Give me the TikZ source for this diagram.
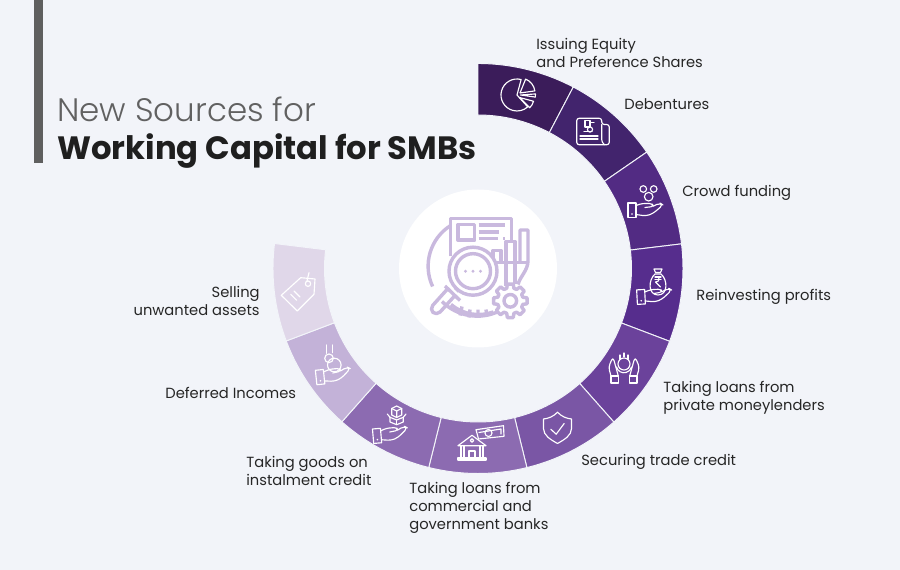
\documentclass[tikz,border=0pt]{standalone}
\usepackage{fontspec}
\setmainfont{Poppins}
\newfontfamily\titololeggero{Poppins Light}
\definecolor{sfondo}{HTML}{F2F4F9}
\definecolor{barra}{HTML}{5F5F5F}
\definecolor{viola1}{HTML}{3B1C5A}
\definecolor{viola2}{HTML}{42246D}
\definecolor{viola3}{HTML}{522B83}
\definecolor{viola4}{HTML}{562D8D}
\definecolor{viola5}{HTML}{6B429B}
\definecolor{viola6}{HTML}{7A56A5}
\definecolor{viola7}{HTML}{8C6BB1}
\definecolor{viola8}{HTML}{C3B2D8}
\definecolor{viola9}{HTML}{E0D7E9}
\definecolor{lilla}{HTML}{C9B9DE}
\begin{document}
\begin{tikzpicture}[
    settore/.style={draw=sfondo,line width=0.55pt},
    icona/.style={white,line width=0.65pt,line join=round,line cap=round},
    etichetta/.style={font=\fontsize{8.37}{10.24}\selectfont,text=black!85,inner sep=0},
    mano/.pic={
      \draw (-17,-7.5) rectangle (-9,7);
      \fill (-13,-4) circle[radius=0.9];
      \draw[rounded corners=1.5] (-9,4.5) -- (-3,6.5) -- (7,6.5) -- (8.5,3.5) -- (0,2.5);
      \draw[rounded corners=2] (7.8,3.7) -- (15,7) -- (18,5) -- (8,-3.5) -- (1,-6) -- (-9,-4.5);
    }]

  \fill[sfondo] (0,0) rectangle (18,11.4);
  \useasboundingbox (0,0) rectangle (18,11.4);

  % ---- titolo ----------------------------------------------------------------
  \fill[barra] (0.68,8.14) rectangle (0.855,11.4);
  \node[anchor=base west,inner sep=0,text=black!62,font=\fontsize{18.5}{20}\selectfont\titololeggero]
    (titolo1) at (1.14,8.96) {New Sources for};
  \node[anchor=base west,inner sep=0,text=black!88,font=\fontsize{18.37}{20}\selectfont\bfseries]
    (titolo2) at (1.14,8.2) {Working Capital for SMBs};

  % ---- corona di settori -----------------------------------------------------
  \begin{scope}[shift={(9.56,6.03)}]
    \draw[settore,fill=viola1] (90:3.07) arc[start angle=90,end angle=62.3,radius=3.07] -- (62.3:4.1) arc[start angle=62.3,end angle=90,radius=4.1] -- cycle;
    \draw[settore,fill=viola2] (62.3:3.07) arc[start angle=62.3,end angle=34.6,radius=3.07] -- (34.6:4.1) arc[start angle=34.6,end angle=62.3,radius=4.1] -- cycle;
    \draw[settore,fill=viola3] (34.6:3.07) arc[start angle=34.6,end angle=6.9,radius=3.07] -- (6.9:4.1) arc[start angle=6.9,end angle=34.6,radius=4.1] -- cycle;
    \draw[settore,fill=viola4] (6.9:3.07) arc[start angle=6.9,end angle=-20.8,radius=3.07] -- (-20.8:4.1) arc[start angle=-20.8,end angle=6.9,radius=4.1] -- cycle;
    \draw[settore,fill=viola5] (-20.8:3.07) arc[start angle=-20.8,end angle=-48.5,radius=3.07] -- (-48.5:4.1) arc[start angle=-48.5,end angle=-20.8,radius=4.1] -- cycle;
    \draw[settore,fill=viola6] (-48.5:3.07) arc[start angle=-48.5,end angle=-76.2,radius=3.07] -- (-76.2:4.1) arc[start angle=-76.2,end angle=-48.5,radius=4.1] -- cycle;
    \draw[settore,fill=viola7] (-76.2:3.07) arc[start angle=-76.2,end angle=-103.9,radius=3.07] -- (-103.9:4.1) arc[start angle=-103.9,end angle=-76.2,radius=4.1] -- cycle;
    \draw[settore,fill=viola7] (-103.9:3.07) arc[start angle=-103.9,end angle=-131.6,radius=3.07] -- (-131.6:4.1) arc[start angle=-131.6,end angle=-103.9,radius=4.1] -- cycle;
    \draw[settore,fill=viola8] (-131.6:3.07) arc[start angle=-131.6,end angle=-159.3,radius=3.07] -- (-159.3:4.1) arc[start angle=-159.3,end angle=-131.6,radius=4.1] -- cycle;
    \draw[settore,fill=viola9] (-159.3:3.07) arc[start angle=-159.3,end angle=-187,radius=3.07] -- (-187:4.1) arc[start angle=-187,end angle=-159.3,radius=4.1] -- cycle;
    \fill[white] (0,0) circle[radius=1.58];
  \end{scope}

  % ---- icona centrale --------------------------------------------------------
  \begin{scope}[shift={(9.56,6.03)},scale=0.02,lilla,line width=1.95pt,line join=round]
    % cerchio di fondo, documento
    \draw (-27.3,43) arc[start angle=122,end angle=205,radius=48];
    \draw (-36,-33) arc[start angle=225,end angle=296,radius=50];
    \draw (-27,-36) arc[start angle=230,end angle=290,radius=43];
    \draw (-18,-47) -- (-16,-38) (-9,-49) -- (-8,-41) (0,-49) -- (0,-41) (9,-48) -- (8,-41);
    \draw (-27.3,12) -- (-27.3,50) -- (33.3,50) -- (33.3,28);
    \draw (-20,28.3) rectangle (-3.3,44);
    \draw (0.7,43.3) -- (26.7,43.3) (0.7,36.7) -- (20.7,36.7) (0.7,30) -- (20,30) (25,30) -- (26.7,30);
    % barre del grafico
    \draw (15,6) -- (15,18) -- (23,18) -- (23,6);
    \draw (28,6) -- (28,27) -- (37,27) -- (37,6) -- (37,-16) (28,6) -- (28,-18);
    \draw (42,6) -- (42,38.5) -- (50,38.5) -- (50,8) .. controls (50,-2) and (42,-8) .. (40,-16);
    \draw (15,6) -- (50,6);
    % lente
    \draw[fill=white] (-5,-2.7) circle[radius=24];
    \draw (-5,-2.7) circle[radius=17.5];
    \fill (-12.5,-2.7) circle[radius=1.6] (-5,-2.7) circle[radius=1.6] (2.5,-2.7) circle[radius=1.6];
    \draw (-23,-19) -- (-19,-23);
    \draw (-33,-17.5) -- (-18,-32);
    \draw[rounded corners=3] (-23.3,-27.3) -- (-41.3,-47.3) -- (-48.7,-40.7) -- (-30.7,-20.7);
    % ingranaggio
    \draw[fill=white,shift={(32.3,-32.3)}] (-10:17) -- (10:17) -- (16:13) -- (29:13) -- (35:17) -- (55:17) -- (61:13) -- (74:13) -- (80:17) -- (100:17) -- (106:13) -- (119:13) -- (125:17) -- (145:17) -- (151:13) -- (164:13) -- (170:17) -- (190:17) -- (196:13) -- (209:13) -- (215:17) -- (235:17) -- (241:13) -- (254:13) -- (260:17) -- (280:17) -- (286:13) -- (299:13) -- (305:17) -- (325:17) -- (331:13) -- (344:13) -- cycle;
    \draw (32.3,-32.3) circle[radius=6.3];
  \end{scope}

  % ---- icone dei settori -----------------------------------------------------
  % torta
  \begin{scope}[shift={(10.36,9.5)},scale=0.02,icona]
    \draw (-1,0) -- ++(75:16) arc[start angle=75,end angle=312,radius=16] -- cycle;
    \draw (2,2) -- ++(68:15) arc[start angle=68,end angle=8,radius=15] -- cycle;
    \draw (2.5,0) -- ++(4:15) arc[start angle=4,end angle=-8,radius=15] -- cycle;
    \draw (1.5,-2.5) -- ++(-15:14.5) arc[start angle=-15,end angle=-45,radius=14.5] -- cycle;
  \end{scope}
  % documento
  \begin{scope}[shift={(11.86,8.77)},scale=0.02,icona]
    \draw[rounded corners=1.5] (8.7,7) -- (8.7,13.3) -- (-16.3,13.3) -- (-16.3,-13.3) -- (16.3,-13.3) -- (16.3,7) -- cycle;
    \draw[rounded corners=1.5] (8.7,7) -- (8.7,-10.5) -- (11.5,-13.3);
    \draw (-13,-4.5) -- (5,-4.5) (-13,-7.5) -- (5,-7.5);
    \draw (-8,4.5) rectangle (-3,11);
    \draw (-3,2) circle[radius=2.6];
    \draw (-9,0) -- (-1,0) (-2,9) -- (1,9);
  \end{scope}
  % mano e monete
  \begin{scope}[shift={(12.9,7.36)},scale=0.02,icona]
    \pic[transform shape] at (0,-8) {mano};
    \draw (-1.7,13) circle[radius=3.3];
    \draw (8.7,13) circle[radius=3.3];
    \draw (3.7,5.3) circle[radius=4.3];
  \end{scope}
  % sacco di rupie
  \begin{scope}[shift={(13.08,5.68)},scale=0.02,icona]
    \draw (1,12) .. controls (-6,6) and (-6,-9) .. (4,-9) .. controls (14,-9) and (14,6) .. (7,12) -- cycle;
    \pic[transform shape,rotate=3] at (0,-10) {mano};
    \draw (0,17) -- (8,17) -- (6.5,13.5) -- (1.5,13.5) -- cycle;
    \draw (1,9) -- (7,9) (1,6.5) -- (7,6.5);
    \draw (3,9) .. controls (6,9) and (6,4) .. (1.5,4) -- (6.5,-1);
  \end{scope}
  % due mani attorno alla moneta
  \begin{scope}[shift={(12.48,4.04)},scale=0.02,icona]
    \draw (0,4) circle[radius=6];
    \draw (-7.5,1) arc[start angle=195,end angle=345,radius=7.8];
    \draw (-4,13) -- (-4,9) (0,15) -- (0,11) (4,13) -- (4,9);
    \draw (-13,-8) rectangle (-5.7,-15);
    \draw (13,-8) rectangle (5.7,-15);
    \draw[rounded corners=2] (-13,-8) -- (-15.5,1) -- (-11,11) -- (-9,4) -- (-5.7,-8);
    \draw[rounded corners=2] (13,-8) -- (15.5,1) -- (11,11) -- (9,4) -- (5.7,-8);
  \end{scope}
  % scudo
  \begin{scope}[shift={(11.15,2.85)},scale=0.02,icona]
    \draw (0,15.3) .. controls (-4,11) and (-9,9) .. (-14,8.5) -- (-14,-1) .. controls (-14,-8) and (-7,-12) .. (0,-16) .. controls (7,-12) and (14,-8) .. (14,-1) -- (14,8.5) .. controls (9,9) and (4,11) .. cycle;
    \draw (-6.7,-1.7) -- (-1.3,-6.7) -- (6.7,4);
  \end{scope}
  % banca e banconota
  \begin{scope}[shift={(9.62,2.54)},scale=0.02,icona]
    \draw (-9,7.7) -- (-23,-2.7) -- (5,-2.7) -- cycle;
    \draw (-9,2.5) circle[radius=1.8];
    \draw (-23,-15) rectangle (5,-17);
    \draw (-20,-3) -- (-20,-15) (-17,-3) -- (-17,-15) (-1,-3) -- (-1,-15) (2,-3) -- (2,-15);
    \draw (-12,-15) -- (-12,-8) -- (-6,-8) -- (-6,-15);
    \draw (-5,13.3) -- (22.5,17.3) -- (23,6.7) -- (-2.5,4) -- cycle;
    \draw (7.5,10) circle[radius=3.5];
    \draw (-2,10.5) -- (20,14) -- (20,9);
  \end{scope}
  % mano e scatola
  \begin{scope}[shift={(7.8,2.92)},scale=0.02,icona]
    \pic[transform shape,rotate=5] at (0,-10.5) {mano};
    \draw (0,6.7) -- (0,2) -- (6.7,-0.7) -- (13.3,2) -- (13.3,6.7);
    \draw (-2.7,10) -- (0,6.7) -- (6.7,4) -- (13.3,6.7) -- (16,10);
    \draw (6.7,4) -- (6.7,-0.7);
    \draw (6.7,18) -- (1.7,15.5) -- (1.7,9) -- (6.7,6.5) -- (11.7,9) -- (11.7,15.5) -- cycle;
    \draw (1.7,15.5) -- (6.7,13) -- (11.7,15.5) (6.7,13) -- (6.7,6.5);
  \end{scope}
  % mano e monete che cadono
  \begin{scope}[shift={(6.66,4.12)},scale=0.02,icona]
    \pic[transform shape,rotate=6] at (0,-11.5) {mano};
    \draw (1.3,-1) circle[radius=6.8];
    \draw (-4,5.7) circle[radius=4.3];
    \draw (-6.3,19) -- (-6.3,10.7) (-0.7,19) -- (-0.7,11.3);
  \end{scope}
  % cartellino
  \begin{scope}[shift={(5.96,5.56)},scale=0.02,icona]
    \draw (-16.7,-3.3) -- (-0.7,-19) -- (16,-2.3) -- (17,13) -- (2.7,14.3) -- cycle;
    \draw (10,8.3) circle[radius=2.7];
    \draw (9,11) -- (11,19.3);
    \draw (-7.3,-2.3) -- (-1.3,-8.3) (-4,1) -- (2,-5);
  \end{scope}

  % ---- etichette -------------------------------------------------------------
  \node[etichetta,anchor=west,align=left] (equity) at (10.72,10.34) {Issuing Equity\\and Preference Shares};
  \node[etichetta,anchor=west] (debentures) at (12.48,9.32) {Debentures};
  \node[etichetta,anchor=west] (crowd) at (13.64,7.54) {Crowd funding};
  \node[etichetta,anchor=west] (profitti) at (13.92,5.46) {Reinvesting profits};
  \node[etichetta,anchor=west,align=left] (privati) at (13.26,3.44) {Taking loans from\\private moneylenders};
  \node[etichetta,anchor=west] (commercio) at (11.62,2.16) {Securing trade credit};
  \node[etichetta,anchor=west,align=left] (banche) at (8.18,1.24) {Taking loans from\\commercial and\\government banks};
  \node[etichetta,anchor=west,align=left] (merci) at (4.92,1.99) {Taking goods on\\instalment credit};
  \node[etichetta,anchor=west] (differiti) at (3.3,3.55) {Deferred Incomes};
  \node[etichetta,anchor=east,align=right] (vendita) at (5.2,5.39) {Selling\\unwanted assets};

\end{tikzpicture}
\end{document}
